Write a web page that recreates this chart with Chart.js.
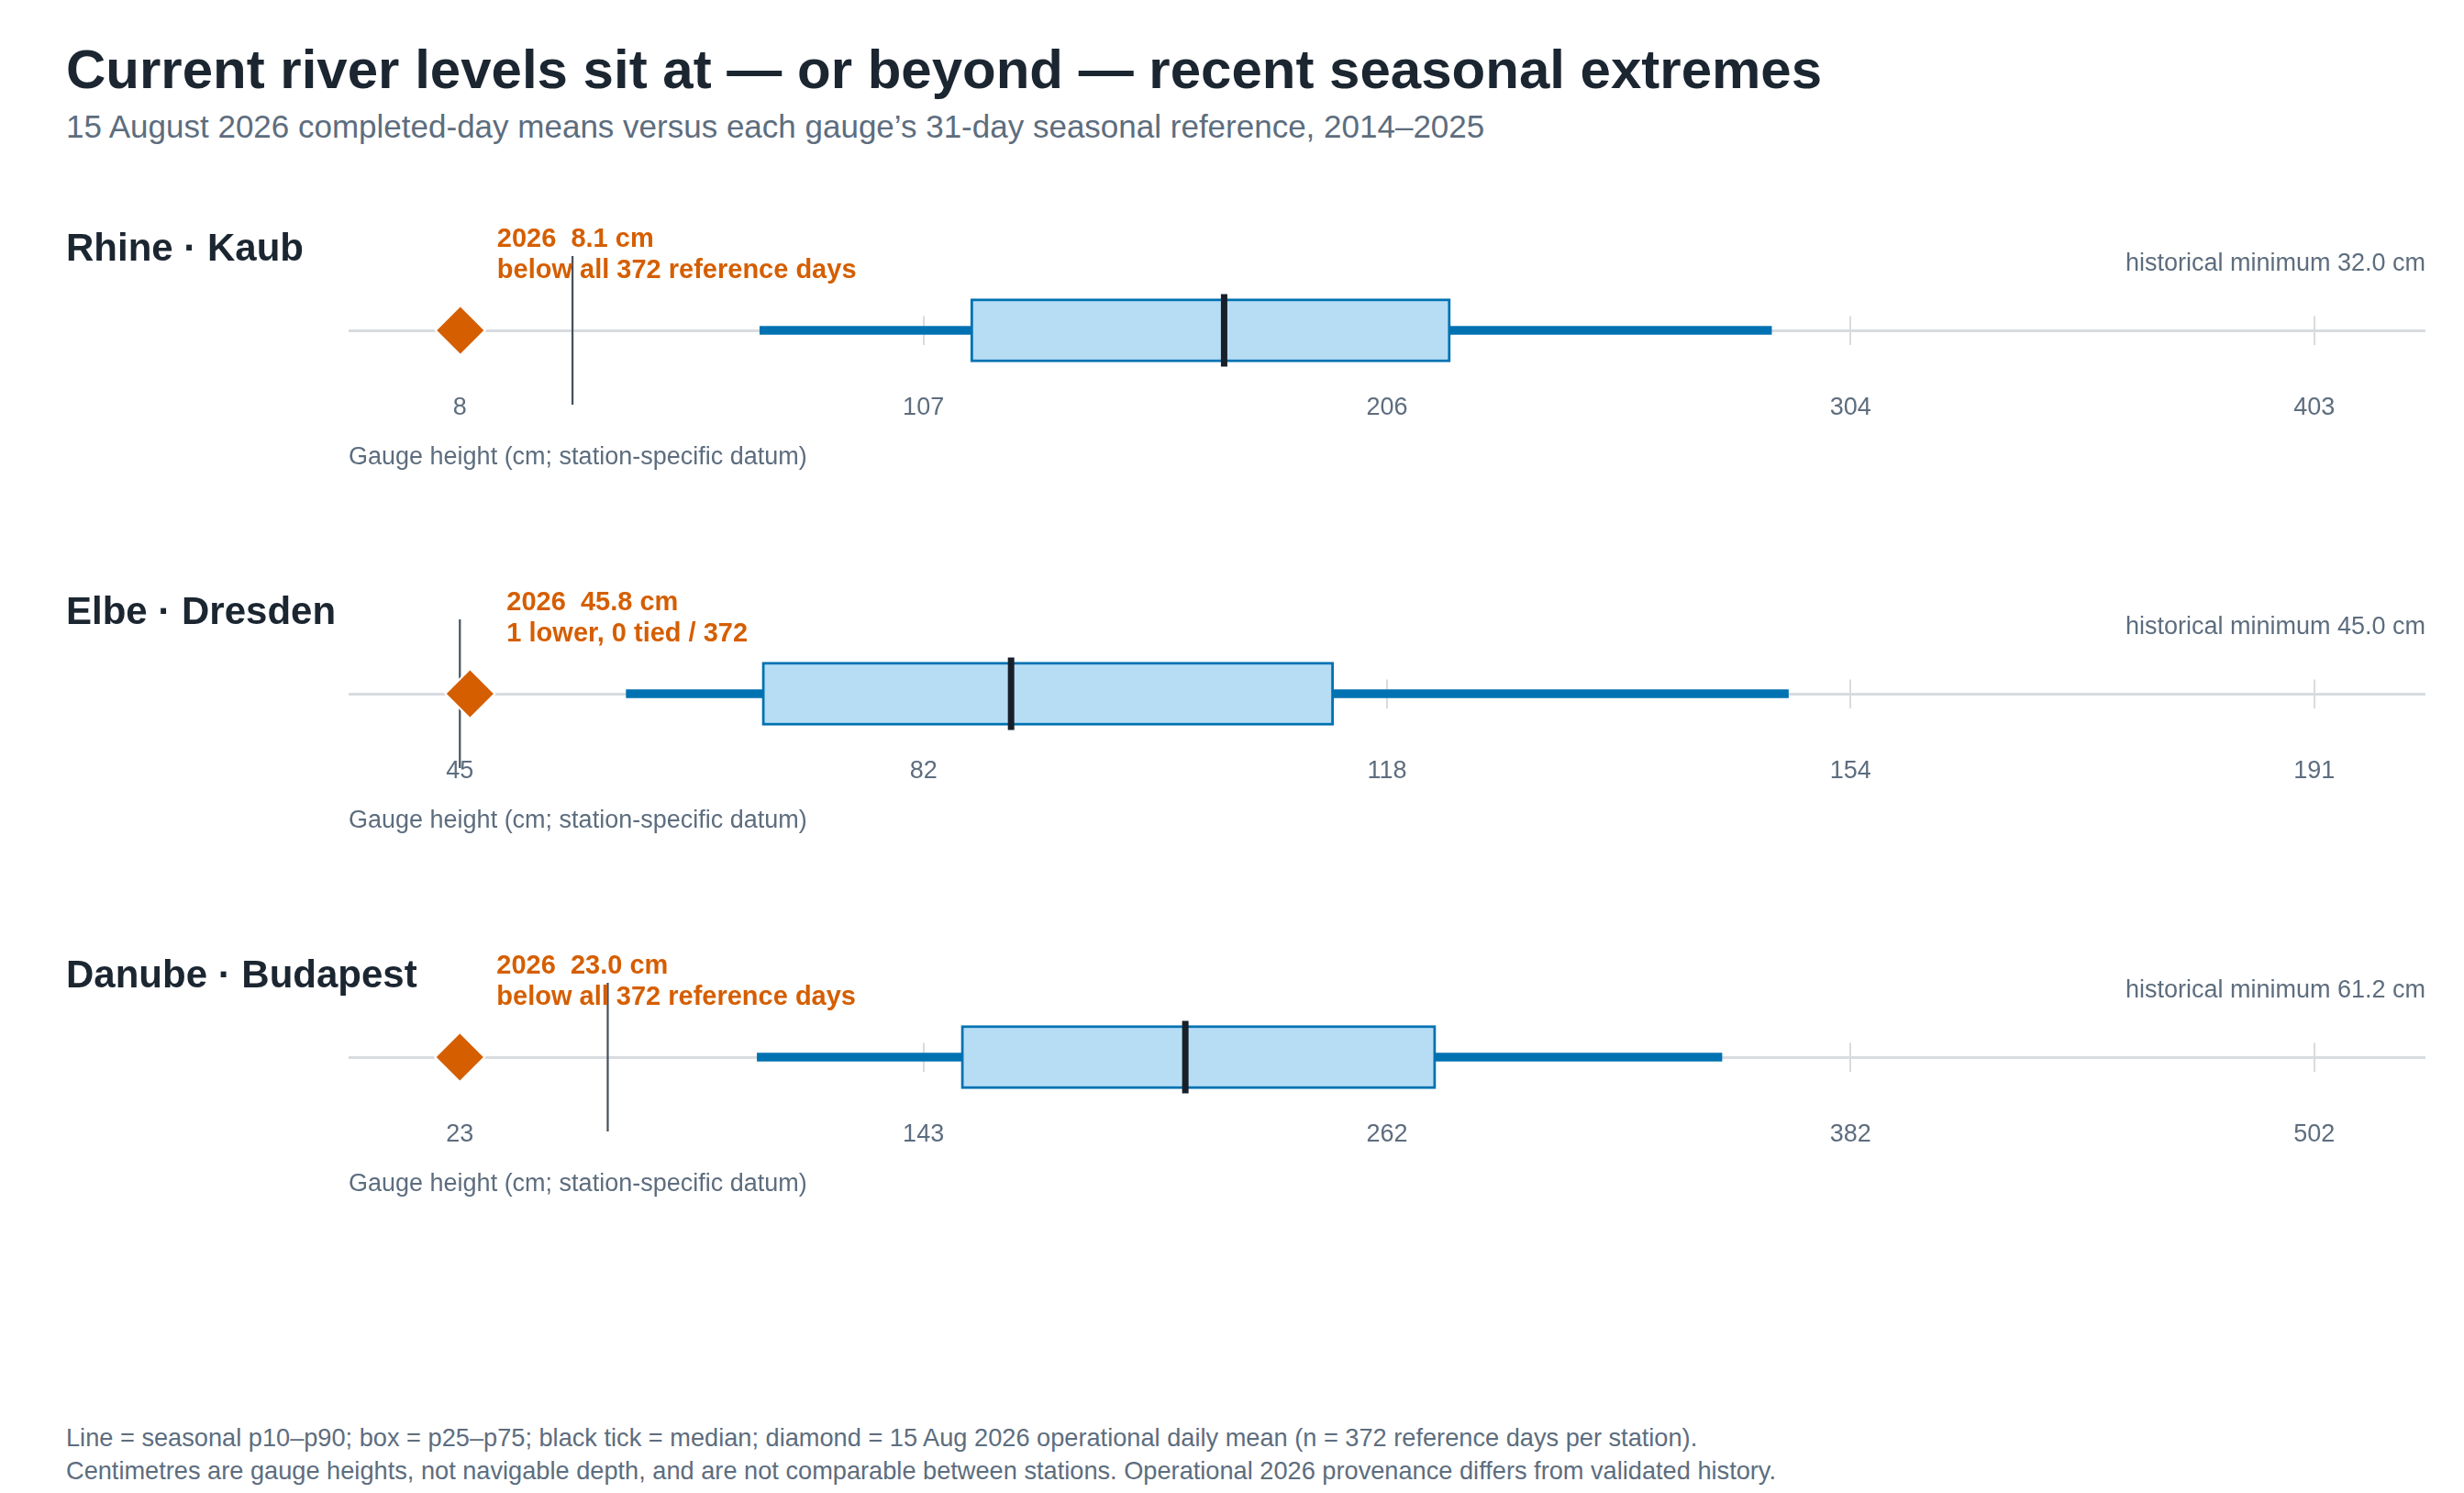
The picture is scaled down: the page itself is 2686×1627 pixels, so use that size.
<!DOCTYPE html>
<html>
<head>
<meta charset="utf-8">
<script src="https://cdn.jsdelivr.net/npm/chart.js@4.4.1/dist/chart.umd.min.js"></script>
<style>
html,body{margin:0;padding:0;background:#ffffff;}
#page{position:relative;width:2686px;height:1627px;overflow:hidden;font-family:'Liberation Sans',Arial,Helvetica,sans-serif;background:#ffffff;}
.t{position:absolute;left:72px;white-space:nowrap;}
#title{top:46px;font-size:60px;line-height:60px;font-weight:bold;color:#1b2631;}
#subtitle{top:120px;font-size:35px;line-height:35px;color:#5d6d7e;}
.ptitle{font-size:42px;line-height:42px;font-weight:bold;color:#1b2631;z-index:2;}
.panel{position:absolute;left:0;width:2686px;height:320px;}
#footer{top:1549px;font-size:27.2px;line-height:36px;color:#5d6d7e;}
</style>
</head>
<body>
<div id="page">
  <div id="title" class="t">Current river levels sit at — or beyond — recent seasonal extremes</div>
  <div id="subtitle" class="t">15 August 2026 completed-day means versus each gauge’s 31-day seasonal reference, 2014–2025</div>
  <div id="panels"></div>
  <div id="footer" class="t">Line = seasonal p10–p90; box = p25–p75; black tick = median; diamond = 15 Aug 2026 operational daily mean (n = 372 reference days per station).<br>Centimetres are gauge heights, not navigable depth, and are not comparable between stations. Operational 2026 provenance differs from validated history.</div>
</div>
<script>
// ---- data ----
const stations = ['Rhine · Kaub', 'Elbe · Dresden', 'Danube · Budapest'];
const p10 = [71.9, 58.1, 99.8];
const p25 = [116.8, 68.8, 152.5];
const median = [170.8, 88.4, 210.4];
const p75 = [219.0, 113.8, 275.1];
const p90 = [287.4, 149.6, 349.0];
const current2026 = [8.1, 45.8, 23.0];
const histMin = [32.0, 45.0, 61.2];
const rankNotes = ['below all 372 reference days', '1 lower, 0 tied / 372', 'below all 372 reference days'];
const tickLabels = [
  [8, 107, 206, 304, 403],
  [45, 82, 118, 154, 191],
  [23, 143, 262, 382, 502]
];
const axisTitle = 'Gauge height (cm; station-specific datum)';

// ---- style ----
const FONT = "'Liberation Sans', Arial, Helvetica, sans-serif";
const ORANGE = '#d55e00';
const BLUE = '#0072b2';
const BOXFILL = '#b6ddf4';
const GRAY = '#5d6d7e';
const LIGHT = '#d8dce0';
const baselines = [360, 756, 1152];

Chart.defaults.font.family = FONT;

const annotPlugin = {
  id: 'annot',
  afterDatasetsDraw(chart, args, opts) {
    const i = opts.idx;
    const {ctx, chartArea} = chart;
    const xs = chart.scales.x, ys = chart.scales.y;
    const yb = ys.getPixelForValue(0);
    const xc = xs.getPixelForValue(current2026[i]);
    ctx.save();
    ctx.font = 'bold 29px ' + FONT;
    ctx.fillStyle = ORANGE;
    ctx.textAlign = 'left';
    ctx.textBaseline = 'middle';
    ctx.fillText('2026  ' + current2026[i].toFixed(1) + ' cm', xc + 40, yb - 99);
    ctx.fillText(rankNotes[i], xc + 40, yb - 65);
    ctx.font = '27px ' + FONT;
    ctx.fillStyle = GRAY;
    ctx.textAlign = 'right';
    ctx.fillText('historical minimum ' + histMin[i].toFixed(1) + ' cm', chartArea.right, yb - 72.5);
    ctx.restore();
  }
};

const panels = document.getElementById('panels');
stations.forEach((name, i) => {
  const top = baselines[i] - 150;
  const t = document.createElement('div');
  t.className = 't ptitle';
  t.style.top = (baselines[i] - 90 - 21) + 'px';
  t.textContent = name;
  const wrap = document.createElement('div');
  wrap.className = 'panel';
  wrap.style.top = top + 'px';
  const cv = document.createElement('canvas');
  wrap.appendChild(cv);
  panels.appendChild(wrap);
  panels.appendChild(t);

  const labels = tickLabels[i];
  const lo = labels[0], hi = labels[labels.length - 1];
  const tickVals = labels.map((_, k) => lo + k * (hi - lo) / (labels.length - 1));
  const pad = 0.06 * (hi - lo);

  new Chart(cv, {
    type: 'bar',
    data: {
      datasets: [
        {type: 'bar', data: [{x: [p10[i], p90[i]], y: 0}], backgroundColor: BLUE,
         borderWidth: 0, barThickness: 9, grouped: false, order: 5, clip: false},
        {type: 'bar', data: [{x: [p25[i], p75[i]], y: 0}], backgroundColor: BOXFILL,
         borderColor: BLUE, borderWidth: 3, borderSkipped: false, barThickness: 69, grouped: false, order: 4, clip: false},
        {type: 'scatter', indexAxis: 'x', data: [{x: median[i], y: 0}], pointStyle: 'line', rotation: 90, pointRadius: 39.5,
         borderWidth: 7, borderColor: '#17202a', order: 3, clip: false},
        {type: 'scatter', indexAxis: 'x', data: [{x: histMin[i], y: 0}], pointStyle: 'line', rotation: 90, pointRadius: 81,
         borderWidth: 2.2, borderColor: '#45505c', order: 2, clip: false},
        {type: 'scatter', indexAxis: 'x', data: [{x: current2026[i], y: 0}], pointStyle: 'rectRot', pointRadius: 27,
         backgroundColor: ORANGE, borderColor: '#ffffff', borderWidth: 2, order: 1, clip: false}
      ]
    },
    options: {
      indexAxis: 'y',
      responsive: true,
      maintainAspectRatio: false,
      devicePixelRatio: 1,
      animation: false,
      events: [],
      layout: {autoPadding: false, padding: {left: 380, right: 42, top: 134.5, bottom: 4.5}},
      plugins: {legend: {display: false}, tooltip: {enabled: false}, annot: {idx: i}},
      scales: {
        x: {
          type: 'linear', min: lo - pad, max: hi + pad, offset: false,
          afterBuildTicks: s => { s.ticks = tickVals.map(v => ({value: v})); },
          afterFit: s => { s.height = 150; s.paddingLeft = 0; s.paddingRight = 0; },
          ticks: {callback: (v, k) => String(labels[k]), color: GRAY, font: {size: 27}, padding: 53,
                  autoSkip: false, maxRotation: 0, minRotation: 0},
          grid: {color: LIGHT, lineWidth: 2, drawTicks: false, offset: false},
          border: {display: false},
          title: {display: true, text: axisTitle, align: 'start', color: GRAY, font: {size: 27},
                  padding: {top: 0, bottom: 11}}
        },
        y: {
          type: 'linear', min: -1, max: 1, offset: false,
          afterBuildTicks: s => { s.ticks = [{value: 0}]; },
          afterFit: s => { s.width = 0; s.paddingTop = 0; s.paddingBottom = 0; },
          ticks: {display: false},
          grid: {color: LIGHT, lineWidth: 3, drawTicks: false, offset: false},
          border: {display: false}
        }
      }
    },
    plugins: [annotPlugin]
  });
});
</script>
</body>
</html>
